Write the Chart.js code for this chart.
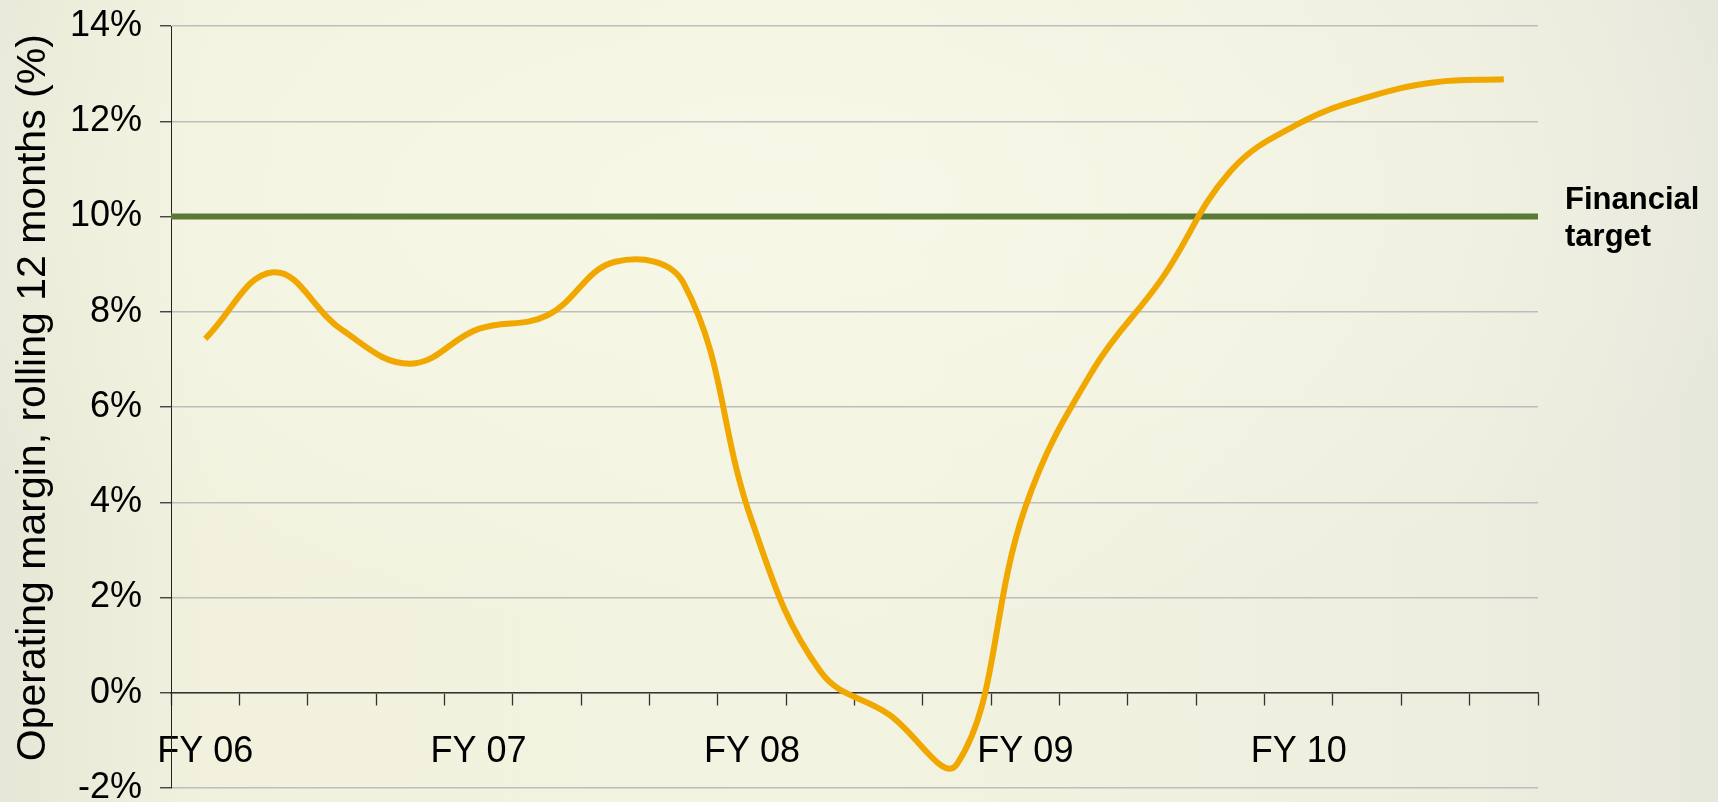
<!DOCTYPE html>
<html>
<head>
<meta charset="utf-8">
<script src="https://cdn.jsdelivr.net/npm/chart.js@4.4.1/dist/chart.umd.min.js"></script>
<style>
  html, body { margin: 0; padding: 0; overflow: hidden; }
  body {
    width: 1718px;
    height: 802px;
    background:
      radial-gradient(ellipse 60% 55% at 45% 25%, rgba(248,248,232,0.9) 0%, rgba(248,248,232,0) 100%),
      linear-gradient(90deg, #e6e7d6 0%, #f1f1de 12%, #f3f3e1 50%, #eeeedf 85%, #e7e8dc 100%);
  }
  #myChart { display: block; }
</style>
</head>
<body>
<canvas id="myChart" width="1718" height="802"></canvas>
<script>
// fiscal years, four quarters each
const fiscalYears = ['FY 06', 'FY 07', 'FY 08', 'FY 09', 'FY 10'];
const quarterNames = ['Q1', 'Q2', 'Q3', 'Q4'];

// operating margin, rolling 12 months (%), one value per quarter
const margin = [
  7.43, 8.83, 7.62, 6.91,
  7.64, 7.92, 9.05, 8.60,
  3.60, 0.45, -0.45, -1.50,
  3.90, 6.80, 8.70, 10.95,
  11.95, 12.50, 12.82, 12.88
];

const targetValue = 10;
const targetLabel = ['Financial', 'target'];
const yTickValues = [-2, 0, 2, 4, 6, 8, 10, 12, 14];

const categories = [];
fiscalYears.forEach(function (fy) {
  quarterNames.forEach(function (q) {
    categories.push(fy + ' ' + q);
  });
});

Chart.defaults.font.family = "'Liberation Sans', Arial, sans-serif";
Chart.defaults.color = '#000';

// text next to the target line
const targetText = {
  id: 'targetText',
  afterDraw: function (chart) {
    const y = chart.scales.y.getPixelForValue(targetValue);
    const x = chart.chartArea.right + 27;
    const c = chart.ctx;
    c.save();
    c.font = "bold 31px 'Liberation Sans', Arial, sans-serif";
    c.fillStyle = '#000';
    c.textBaseline = 'alphabetic';
    c.fillText(targetLabel[0], x, y - 8);
    c.fillText(targetLabel[1], x, y + 29);
    c.restore();
  }
};

let ctx = document.getElementById('myChart').getContext('2d');
let myChart = new Chart(ctx, {
  type: 'line',
  data: {
    labels: categories,
    datasets: [{
      label: 'Operating margin',
      data: margin,
      borderColor: '#f0a800',
      borderWidth: 6,
      pointRadius: 0,
      tension: 0.4,
      fill: false
    }, {
      label: 'Financial target',
      data: [{ x: 0, y: targetValue }, { x: 1, y: targetValue }],
      xAxisID: 'x2',
      borderColor: '#5a7a34',
      borderWidth: 6,
      pointRadius: 0,
      fill: false
    }]
  },
  options: {
    responsive: false,
    animation: false,
    layout: { padding: { left: 0, right: 180, top: 26, bottom: 14 } },
    plugins: {
      legend: { display: false },
      tooltip: { enabled: false }
    },
    scales: {
      x: {
        type: 'category',
        position: { y: 0 },
        offset: true,
        grid: {
          offset: true,
          drawOnChartArea: false,
          drawTicks: true,
          tickLength: 12,
          tickWidth: 1.3,
          tickColor: '#333'
        },
        border: { display: true, color: '#333', width: 1.5 },
        ticks: {
          autoSkip: false,
          maxRotation: 0,
          padding: 26,
          font: { size: 36 },
          color: '#000',
          callback: function (value, index) {
            return index % 4 === 0 ? fiscalYears[index / 4] : '';
          }
        },
        afterFit: function (s) { s.paddingLeft = 0; s.paddingRight = 0; }
      },
      x2: { type: 'linear', min: 0, max: 1, display: false },
      y: {
        min: -2,
        max: 14,
        afterBuildTicks: function (s) {
          s.ticks = yTickValues.map(function (v) { return { value: v }; });
        },
        afterFit: function (s) {
          s.width = 171;
          s.paddingTop = 0;
          s.paddingBottom = 0;
        },
        grid: {
          color: '#bdbdbd',
          lineWidth: 1.5,
          tickLength: 11,
          tickColor: '#333',
          tickWidth: 1.3
        },
        border: { display: true, color: '#222', width: 1 },
        ticks: {
          padding: 18,
          font: { size: 36 },
          color: '#000',
          callback: function (v) { return v + '%'; }
        },
        title: {
          display: true,
          text: 'Operating margin, rolling 12 months (%)\u2009',
          align: 'end',
          font: { size: 41 },
          color: '#000',
          padding: { top: 9, bottom: 0 }
        }
      }
    }
  },
  plugins: [targetText]
});
</script>
</body>
</html>
